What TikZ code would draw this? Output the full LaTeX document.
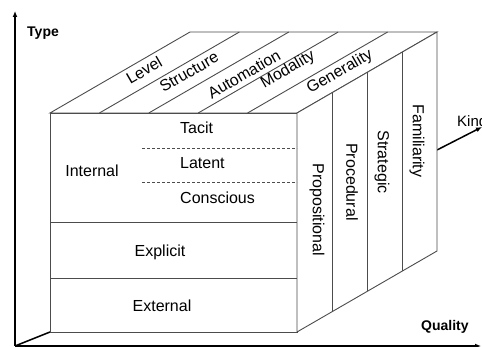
\documentclass[tikz,border=0pt]{standalone}
\usepackage{fontspec}
\setmainfont{Liberation Sans}
\usetikzlibrary{arrows.meta}
\begin{document}
\begin{tikzpicture}[x=1pt,y=-1pt,
  cube/.style={draw=black!70,line width=0.9pt},
  axis/.style={draw=black,line width=1.5pt,-{Latex[length=6pt,width=5pt]}},
  lbl/.style={font=\fontsize{16}{18}\selectfont,inner sep=0pt},
  axlbl/.style={font=\fontsize{14}{16}\selectfont\bfseries,inner sep=0pt},
  dsh/.style={draw=black!70,line width=0.9pt,dash pattern=on 3pt off 2pt}]
\useasboundingbox (0,0) rectangle (482,347);
% corners
\coordinate (A) at (50,113);
\coordinate (B) at (297,113);
\coordinate (C) at (297,332);
\coordinate (D) at (50,332);
\coordinate (A2) at (190,32);
\coordinate (B2) at (437,32);
\coordinate (C2) at (437,251);
\coordinate (O) at (15,346);
\coordinate (Ytip) at (15,11);
\coordinate (Xtip) at (481,346);
\coordinate (Kin) at (437,150);
\coordinate (Ktip) at (482,127);
% axes
\draw[axis] (O) -- (Ytip);
\draw[axis] (O) -- (Xtip);
\draw[draw=black,line width=1.5pt] (O) -- (D);
\draw[axis] (Kin) -- (Ktip);
\node[axlbl,anchor=west] (type) at (27,33) {Type};
\node[axlbl,anchor=west] (quality) at (421,327) {Quality};
\node[font=\fontsize{15}{17}\selectfont,inner sep=0pt,anchor=west] (kind) at (457,121) {Kind};
% cube
\draw[cube,fill=white] (A) -- (B) -- (C) -- (D) -- cycle;
\draw[cube,fill=white] (A) -- (A2) -- (B2) -- (B) -- cycle;
\draw[cube,fill=white] (B) -- (B2) -- (C2) -- (C) -- cycle;
% front rows
\coordinate (r1l) at (50,222); \coordinate (r1r) at (297,222);
\coordinate (r2l) at (50,278); \coordinate (r2r) at (297,278);
\draw[cube] (r1l) -- (r1r);
\draw[cube] (r2l) -- (r2r);
\coordinate (d1l) at (142,148); \coordinate (d1r) at (297,148);
\coordinate (d2l) at (142,182); \coordinate (d2r) at (297,182);
\draw[dsh] (d1l) -- (d1r);
\draw[dsh] (d2l) -- (d2r);
% top stripes
\foreach \k in {1,2,3,4} {
  \draw[cube] (50+49.4*\k,113) -- (190+49.4*\k,32);
}
% right stripes
\foreach \xx in {332,367,402} {
  \draw[cube] (\xx,{113-(\xx-297)*0.5786}) -- (\xx,{332-(\xx-297)*0.5786});
}
% front labels
\node[lbl,anchor=west] (tacit) at (180,128) {Tacit};
\node[lbl,anchor=west] (latent) at (180,163) {Latent};
\node[lbl,anchor=west] (conscious) at (180,198) {Conscious};
\node[lbl] (internal) at (92,171) {Internal};
\node[lbl] (explicit) at (160,252) {Explicit};
\node[lbl] (external) at (162,306) {External};
% top labels
\node[lbl,rotate=30] (level) at (144,70) {Level};
\node[lbl,rotate=30] (structure) at (189,72) {Structure};
\node[lbl,rotate=30] (automation) at (244,74) {Automation};
\node[lbl,rotate=30] (modality) at (288,70) {Modality};
\node[lbl,rotate=30] (generality) at (340,72) {Generality};
% right labels
\node[lbl,rotate=-90] (prop) at (317,210) {Propositional};
\node[lbl,rotate=-90] (proc) at (352,182) {Procedural};
\node[lbl,rotate=-90] (strat) at (382,162) {Strategic};
\node[lbl,rotate=-90] (fam) at (417,141) {Familiarity};
\end{tikzpicture}
\end{document}
